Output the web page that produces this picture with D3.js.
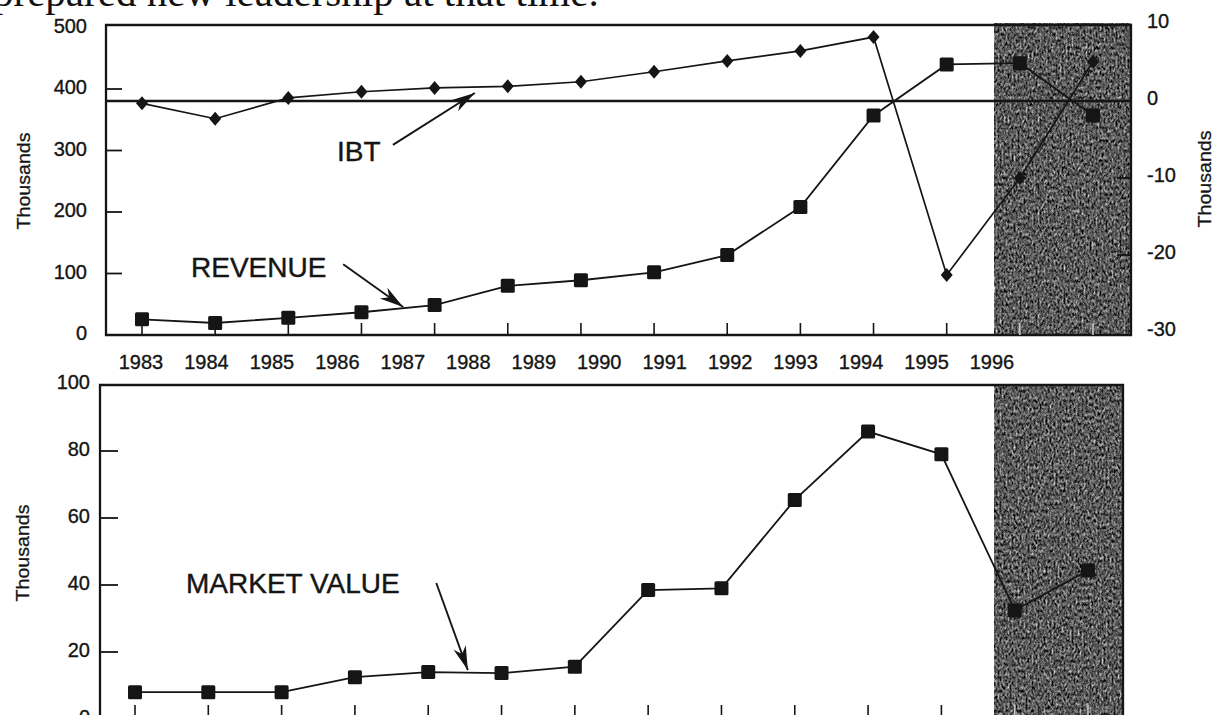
<!DOCTYPE html>
<html><head><meta charset="utf-8">
<script src="https://cdn.jsdelivr.net/npm/d3@7"></script>
<style>html,body{margin:0;padding:0;background:#fff;overflow:hidden}</style>
</head><body>
<svg id="c" width="1220" height="715" xmlns="http://www.w3.org/2000/svg"></svg>
<script>
// ---------- data ----------
const years = ["1983","1984","1985","1986","1987","1988","1989","1990","1991","1992","1993","1994","1995","1996"];
const revenue = [25.5, 19.5, 28, 37, 48.7, 80, 89, 102, 130, 208, 357, 440, 442, 357];      // left axis, thousands
const ibt = [-0.3, -2.3, 0.4, 1.2, 1.7, 1.9, 2.5, 3.8, 5.2, 6.5, 8.3, -22.6, -10, 5.1];    // right axis, thousands
const marketValue = [8, 8, 8, 12.5, 14, 13.7, 15.6, 38.5, 39, 65.4, 85.8, 79, 32.5, 44.3];  // bottom panel, thousands
const revenueTicks = [0, 100, 200, 300, 400, 500];
const ibtTicks = [10, 0, -10, -20, -30];
const marketTicks = [0, 20, 40, 60, 80, 100];
const forecastFrom = 11.66;  // index where the shaded (projected) zone starts

// ---------- setup ----------
const svg = d3.select("#c");
const ink = "#151515";
const sans = "'Liberation Sans', Arial, Helvetica, sans-serif";
const idx = d3.range(years.length);

const defs = svg.append("defs");
const f = defs.append("filter").attr("id", "grain")
  .attr("x", 0).attr("y", 0).attr("width", 1).attr("height", 1)
  .attr("filterUnits", "objectBoundingBox")
  .attr("color-interpolation-filters", "sRGB");
f.append("feTurbulence").attr("type", "fractalNoise").attr("baseFrequency", "0.5 0.3")
  .attr("numOctaves", 4).attr("seed", 11).attr("result", "n");
f.append("feColorMatrix").attr("type", "matrix")
  .attr("values", "0.33 0.33 0.33 0 0  0.33 0.33 0.33 0 0  0.33 0.33 0.33 0 0  0 0 0 0 1");
const ct = f.append("feComponentTransfer");
["feFuncR","feFuncG","feFuncB"].forEach(k => ct.append(k).attr("type","linear").attr("slope", 2.0).attr("intercept", -0.64));

// body text fragment at top (cut off, as in the scan)
svg.append("text").attr("x", -7).attr("y", 6)
  .attr("font-family", "'Liberation Serif', 'Times New Roman', serif")
  .attr("font-size", 41).attr("fill", "#111")
  .text("prepared new leadership at that time.");

function txt(g, x, y, t, anchor, size) {
  return g.append("text").attr("x", x).attr("y", y).attr("dy", "0.35em").attr("text-anchor", anchor)
    .attr("font-family", sans).attr("font-size", size || 20).attr("fill", ink)
    .attr("stroke", ink).attr("stroke-width", 0.35).text(t);
}

// ---------- top panel ----------
const T = {left: 106, right: 1131, top: 25, bottom: 335};
const xT = d3.scaleLinear().domain([0, 13]).range([142, 1093]);
const xLab = d3.scalePoint().domain(years).range([141, 992]);
const yRev = d3.scaleLinear().domain([0, 500]).range([335, 27.5]);
const yIbt = d3.scaleLinear().domain([-30, 10]).range([332, 24]);
const shadeX = xT(forecastFrom);

const gT = svg.append("g");
gT.append("rect").attr("x", shadeX).attr("y", T.top - 2).attr("width", T.right - shadeX).attr("height", T.bottom - T.top + 2)
  .attr("fill", "#4a4a4a").attr("filter", "url(#grain)");

// frame
gT.append("path").attr("d", `M${T.left},${T.bottom}V${T.top}H${T.right}V${T.bottom}Z`)
  .attr("fill", "none").attr("stroke", ink).attr("stroke-width", 2.3);
// IBT zero line
gT.append("line").attr("x1", T.left).attr("x2", T.right).attr("y1", yIbt(0)).attr("y2", yIbt(0))
  .attr("stroke", ink).attr("stroke-width", 2.3);

// left axis ticks/labels
revenueTicks.forEach(v => {
  if (v > 0 && v < 500) gT.append("line").attr("x1", T.left).attr("x2", T.left + 16).attr("y1", yRev(v)).attr("y2", yRev(v))
    .attr("stroke", ink).attr("stroke-width", 1.8);
  txt(gT, 87, yRev(v) - 2, v, "end");
});
// right axis ticks/labels
ibtTicks.forEach(v => {
  if (v > -30 && v < 10) gT.append("line").attr("x1", T.right - 14).attr("x2", T.right).attr("y1", yIbt(v)).attr("y2", yIbt(v))
    .attr("stroke", ink).attr("stroke-width", 1.8);
  txt(gT, 1147, yIbt(v) - 3, v, "start");
});
// x ticks
idx.forEach(i => {
  gT.append("line").attr("x1", xT(i)).attr("x2", xT(i)).attr("y1", T.bottom).attr("y2", T.bottom - 12)
    .attr("stroke", i >= forecastFrom ? "#c8c8c8" : ink).attr("stroke-width", 1.6);
});
// x labels
years.forEach(y => txt(gT, xLab(y), 362, y, "middle"));
// axis titles
function vTitle(g, x, y) {
  g.append("text").attr("transform", `translate(${x},${y}) rotate(-90)`).attr("text-anchor", "middle")
    .attr("font-family", sans).attr("font-size", 18).attr("fill", ink)
    .attr("stroke", ink).attr("stroke-width", 0.3)
    .attr("textLength", 97).attr("lengthAdjust", "spacingAndGlyphs").text("Thousands");
}
vTitle(gT, 30, 181);
vTitle(gT, 1211, 179);

// lines
const lineRev = d3.line().x((d, i) => xT(i)).y(d => yRev(d));
const lineIbt = d3.line().x((d, i) => xT(i)).y(d => yIbt(d));
gT.append("path").attr("d", lineRev(revenue)).attr("fill", "none").attr("stroke", ink).attr("stroke-width", 1.8);
gT.append("path").attr("d", lineIbt(ibt)).attr("fill", "none").attr("stroke", ink).attr("stroke-width", 1.7);
// markers
gT.selectAll(".sq").data(revenue).enter().append("rect")
  .attr("x", (d, i) => xT(i) - 7).attr("y", d => yRev(d) - 7).attr("width", 14).attr("height", 14)
  .attr("rx", 1.5).attr("fill", ink);
gT.selectAll(".dm").data(ibt).enter().append("path")
  .attr("d", (d, i) => { const x = xT(i), y = yIbt(d); return `M${x},${y-7}L${x+6},${y}L${x},${y+7}L${x-6},${y}Z`; })
  .attr("fill", ink);

// ---------- bottom panel ----------
const B = {left: 100, right: 1123, top: 385, bottom: 719};
const xB = d3.scaleLinear().domain([0, 13]).range([135, 1088]);
const yMV = d3.scaleLinear().domain([0, 100]).range([719, 384]);
const gB = svg.append("g");
gB.append("rect").attr("x", shadeX).attr("y", B.top).attr("width", B.right - shadeX).attr("height", B.bottom - B.top)
  .attr("fill", "#4a4a4a").attr("filter", "url(#grain)");
gB.append("path").attr("d", `M${B.left},${B.bottom}V${B.top}H${B.right}V${B.bottom}Z`)
  .attr("fill", "none").attr("stroke", ink).attr("stroke-width", 2.3);
marketTicks.forEach(v => {
  if (v > 0 && v < 100) gB.append("line").attr("x1", B.left).attr("x2", B.left + 18).attr("y1", yMV(v)).attr("y2", yMV(v))
    .attr("stroke", ink).attr("stroke-width", 1.8);
  txt(gB, 90, yMV(v) - 2, v, "end");
});
idx.forEach(i => {
  gB.append("line").attr("x1", xB(i)).attr("x2", xB(i)).attr("y1", B.bottom).attr("y2", B.bottom - 14)
    .attr("stroke", xB(i) > shadeX ? "#c8c8c8" : ink).attr("stroke-width", 1.6);
});
vTitle(gB, 29, 553);
const lineMV = d3.line().x((d, i) => xB(i)).y(d => yMV(d));
gB.append("path").attr("d", lineMV(marketValue)).attr("fill", "none").attr("stroke", ink).attr("stroke-width", 1.8);
gB.selectAll(".sq").data(marketValue).enter().append("rect")
  .attr("x", (d, i) => xB(i) - 7).attr("y", d => yMV(d) - 7).attr("width", 14).attr("height", 14)
  .attr("rx", 1.5).attr("fill", ink);

// ---------- annotations ----------
function arrow(g, x1, y1, x2, y2) {
  g.append("line").attr("x1", x1).attr("y1", y1).attr("x2", x2).attr("y2", y2)
    .attr("stroke", ink).attr("stroke-width", 1.9);
  const a = Math.atan2(y2 - y1, x2 - x1), L = 24, W = 6.5, N = 17;
  const bx = x2 - L * Math.cos(a), by = y2 - L * Math.sin(a);
  const nx = x2 - N * Math.cos(a), ny = y2 - N * Math.sin(a);
  const px = -Math.sin(a) * W, py = Math.cos(a) * W;
  g.append("path").attr("d", `M${x2},${y2}L${bx + px},${by + py}L${nx},${ny}L${bx - px},${by - py}Z`).attr("fill", ink);
}
function label(g, x, y, t) {
  g.append("text").attr("x", x).attr("y", y).attr("font-family", sans).attr("font-size", 28).attr("fill", ink)
    .attr("stroke", ink).attr("stroke-width", 0.4).text(t);
}
label(gT, 337, 161, "IBT");
arrow(gT, xT(3.43), yIbt(-5.7), xT(4.55), yIbt(1.04));
label(gT, 191, 277, "REVENUE");
arrow(gT, xT(2.75), yRev(115), xT(3.57), yRev(45.5));
label(gB, 186, 593, "MARKET VALUE");
arrow(gB, xB(4.11), yMV(40.6), xB(4.54), yMV(14.6));
</script>
</body></html>
